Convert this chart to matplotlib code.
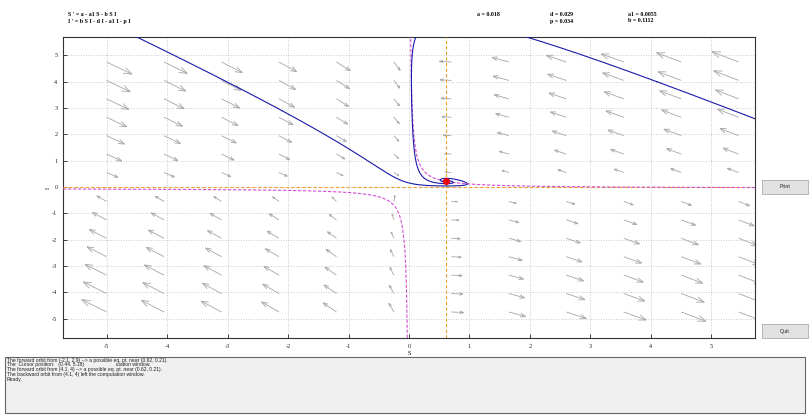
import numpy as np
import matplotlib
matplotlib.use("Agg")
import matplotlib.pyplot as plt
from matplotlib.collections import LineCollection
from matplotlib.patches import Rectangle

# ---- model:  S' = a - a1 S - b S I ,  I' = b S I - d I - a1 I - p I
a, d, p, a1, b = 0.018, 0.029, 0.034, 0.0055, 0.1112

s_lim = (-5.72, 5.72)
i_lim = (-5.74, 5.70)
s_ticks = [-5, -4, -3, -2, -1, 0, 1, 2, 3, 4, 5]
i_ticks = [-5, -4, -3, -2, -1, 0, 1, 2, 3, 4, 5]

# initial points of the computed orbits
orbit_starts = [(-2.1, 2.9), (4.1, 4.0)]

# direction-field sample points
field_S = [-5.0, -4.05, -3.1, -2.15, -1.2, -0.25, 0.7, 1.65, 2.6, 3.55, 4.5, 5.45]
field_I = [-4.75, -4.05, -3.35, -2.65, -1.95, -1.25, -0.55,
           0.55, 1.25, 1.95, 2.65, 3.35, 4.05, 4.75]

eq_text = ["S ' = a - a1 S - b S I", "I ' = b S I - d I - a1 I - p I"]
param_text = [("a = 0.018", ""), ("d = 0.029", "p = 0.034"), ("a1 = 0.0055", "b = 0.1112")]
messages = [
    "The forward orbit from (-2.1, 2.9) --> a possible eq. pt. near (0.62, 0.21).",
    "The  Cursor position:   (0.44, 5.18)                       utation window.",
    "The forward orbit from (4.1, 4) --> a possible eq. pt. near (0.62, 0.21).",
    "The backward orbit from (4.1, 4) left the computation window.",
    "Ready.",
]


def rhs(S, I):
    return a - a1 * S - b * S * I, b * S * I - d * I - a1 * I - p * I


def rk4(S, I, h):
    k1 = rhs(S, I)
    k2 = rhs(S + h / 2 * k1[0], I + h / 2 * k1[1])
    k3 = rhs(S + h / 2 * k2[0], I + h / 2 * k2[1])
    k4 = rhs(S + h * k3[0], I + h * k3[1])
    return (S + h * (k1[0] + 2 * k2[0] + 2 * k3[0] + k4[0]) / 6,
            I + h * (k1[1] + 2 * k2[1] + 2 * k3[1] + k4[1]) / 6)


def orbit(S0, I0, sign, ds=0.004, nmax=200000):
    pts = [(S0, I0)]
    S, I = S0, I0
    for _ in range(nmax):
        u, v = rhs(S, I)
        sp = np.hypot(u, v)
        if sp < 2e-4:
            break
        step = min(ds / sp, 2.0)
        S, I = rk4(S, I, sign * step)
        pts.append((S, I))
        if abs(S) > 9 or abs(I) > 9:
            break
    return np.array(pts)


W, H = 810, 415
fig = plt.figure(figsize=(W / 100, H / 100), dpi=100)
fig.patch.set_facecolor("white")

ax_l, ax_r, ax_t, ax_b = 63, 755, 37, 338
ax = fig.add_axes([ax_l / W, 1 - ax_b / H, (ax_r - ax_l) / W, (ax_b - ax_t) / H])
ax.set_xlim(*s_lim)
ax.set_ylim(*i_lim)
ax.set_facecolor("white")

serif = "Liberation Serif"
ax.set_xticks(s_ticks)
ax.set_yticks(i_ticks)
ax.set_xticklabels([str(t) for t in s_ticks], fontsize=4.5, family=serif)
ax.set_yticklabels([str(t) for t in i_ticks], fontsize=4.5, family=serif)
ax.tick_params(direction="in", length=3, width=0.6, colors="#222222", pad=4)
ax.grid(True, linestyle=(0, (1, 2)), color="#b8b8b8", linewidth=0.6)
for sp_ in ax.spines.values():
    sp_.set_color("#333333")
    sp_.set_linewidth(0.8)
ax.set_xlabel("S", fontsize=4.5, family=serif, labelpad=2)
ax.set_ylabel("I", fontsize=4.5, family=serif, labelpad=1)

# direction field, arrow length grows slowly with speed
sx = (ax_r - ax_l) / (s_lim[1] - s_lim[0])
sy = (ax_b - ax_t) / (i_lim[1] - i_lim[0])
segs = []
for S in field_S:
    for I in field_I:
        u, v = rhs(S, I)
        up, vp = u * sx, v * sy
        mag = np.hypot(up, vp)
        if mag == 0:
            continue
        L = 28 * (mag / 180) ** 0.4
        L = min(max(L, 6), 34)
        ex, ey = up / mag, vp / mag
        tx, ty = S + ex * L / sx, I + ey * L / sy
        segs.append([(S, I), (tx, ty)])
        hl = min(0.33 * L, 9)
        for ang in (0.35, -0.35):
            c, s_ = np.cos(ang), np.sin(ang)
            hx = -(ex * c - ey * s_)
            hy = -(ex * s_ + ey * c)
            segs.append([(tx, ty), (tx + hx * hl / sx, ty + hy * hl / sy)])
ax.add_collection(LineCollection(segs, colors="#a6a6a6", linewidths=0.6, zorder=2))

# nullclines
S_eq = (d + a1 + p) / b
I_eq = (a - a1 * S_eq) / (b * S_eq)
ax.axhline(0, color="#f0a030", linestyle=(0, (3, 2)), linewidth=0.8, zorder=3)
ax.axvline(S_eq, color="#f0a030", linestyle=(0, (3, 2)), linewidth=0.8, zorder=3)
for rng in (np.linspace(s_lim[0], -0.001, 800), np.linspace(0.001, s_lim[1], 1600)):
    ax.plot(rng, (a - a1 * rng) / (b * rng), color="#d050d0",
            linestyle=(0, (3, 1.5)), linewidth=0.8, zorder=3)

# orbits
for S0, I0 in orbit_starts:
    for sign in (1, -1):
        tr = orbit(S0, I0, sign)
        ax.plot(tr[:, 0], tr[:, 1], color="#1a1aa8", linewidth=0.8, zorder=4)

ax.plot([S_eq], [I_eq], "o", color="#ee0000", markersize=4, zorder=5)

# header texts
fig.text(68 / W, 1 - 14 / H, eq_text[0], fontsize=4.2, family=serif, weight="bold", va="center")
fig.text(68 / W, 1 - 21 / H, eq_text[1], fontsize=4.2, family=serif, weight="bold", va="center")
xs = [477, 550, 628]
for x, (t1, t2) in zip(xs, param_text):
    fig.text(x / W, 1 - 14 / H, t1, fontsize=4.2, family=serif, weight="bold", va="center")
    if t2:
        fig.text(x / W, 1 - 21 / H, t2, fontsize=4.2, family=serif, weight="bold", va="center")

# buttons
for y0, lab in ((180, "Print"), (324, "Quit")):
    fig.patches.append(Rectangle((762 / W, 1 - (y0 + 14) / H), 46 / W, 14 / H,
                                 transform=fig.transFigure, facecolor="#e1e1e1",
                                 edgecolor="#adadad", linewidth=0.6))
    fig.text(785 / W, 1 - (y0 + 7) / H, lab, fontsize=3.8, family="Liberation Sans",
             ha="center", va="center", color="#222222")

# message box
fig.patches.append(Rectangle((5 / W, 1 - 413 / H), 800 / W, 56 / H,
                             transform=fig.transFigure, facecolor="#f0f0f0",
                             edgecolor="#666666", linewidth=0.8))
for k, line in enumerate(messages):
    fig.text(7 / W, 1 - (360 + 4.8 * k) / H, line, fontsize=3.6,
             family="Liberation Sans", va="center", color="#222222")

fig.savefig("out.png", dpi=100)
